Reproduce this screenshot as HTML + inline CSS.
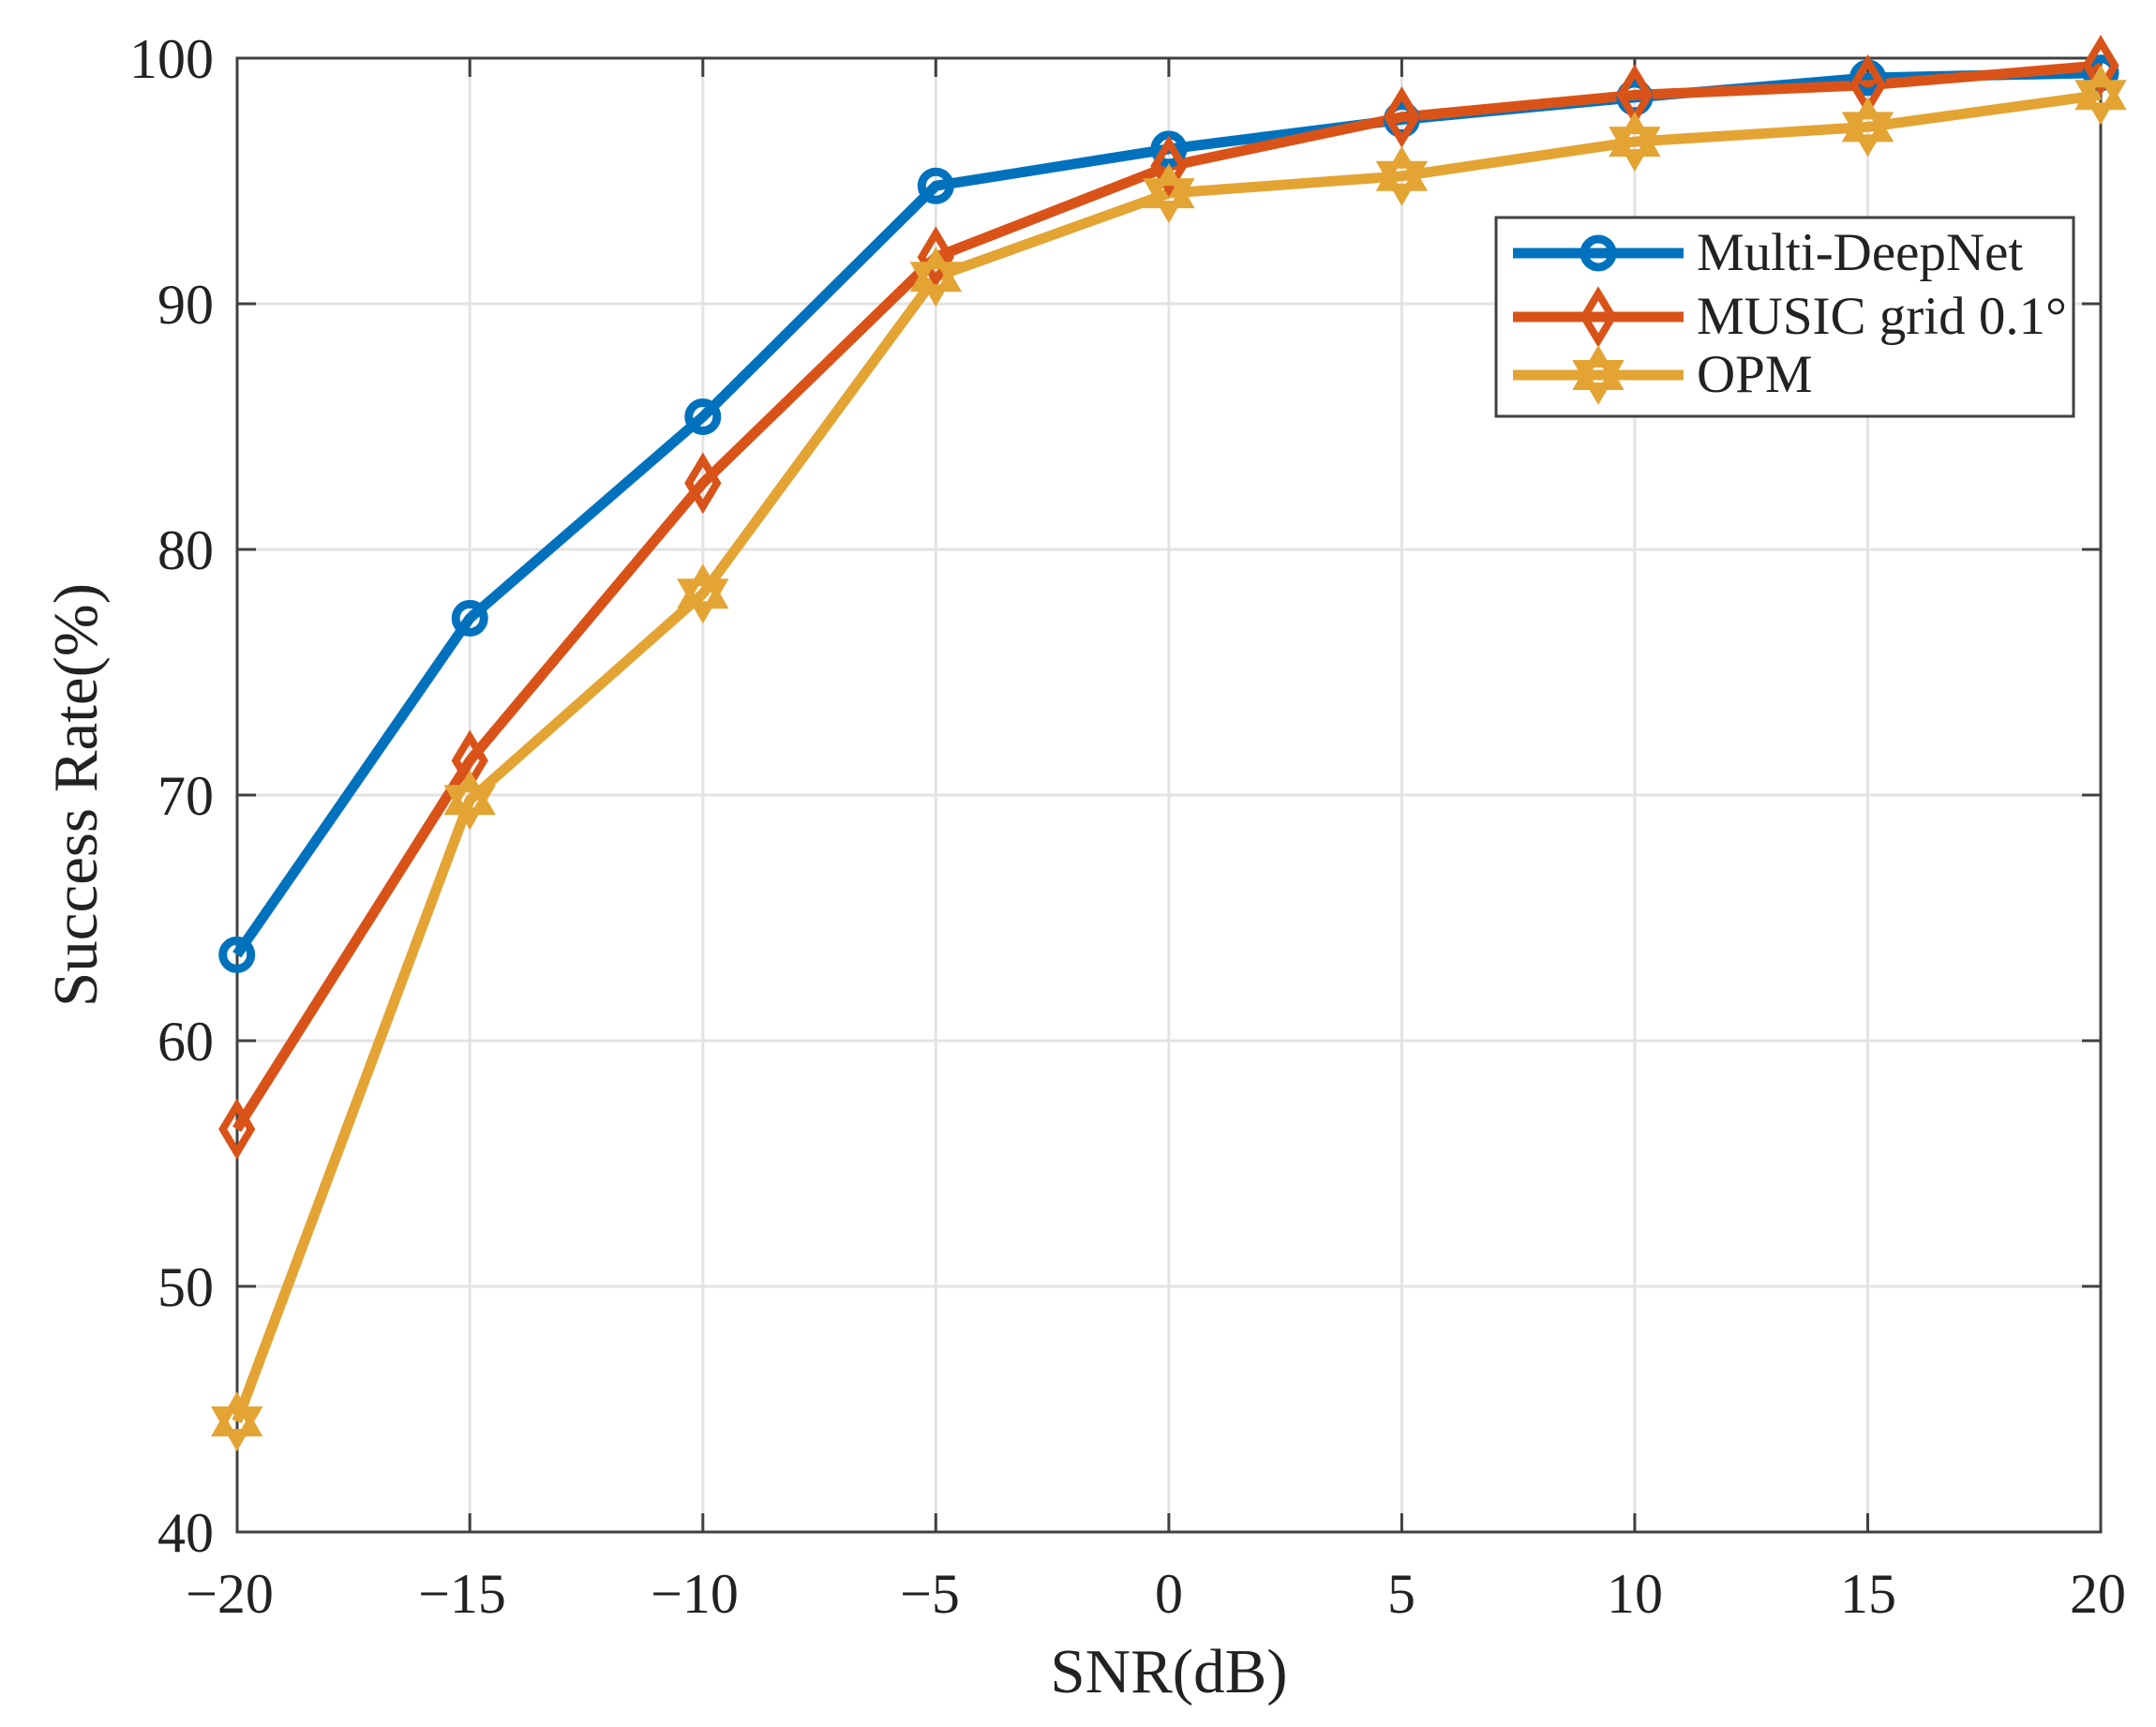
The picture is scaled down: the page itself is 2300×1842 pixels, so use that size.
<!DOCTYPE html>
<html><head><style>body{margin:0;background:#fff}svg{display:block}</style></head><body>
<svg width="2300" height="1842" viewBox="0 0 2300 1842" xmlns="http://www.w3.org/2000/svg" font-family="Liberation Serif, serif" fill="#222">
<defs>
<g id="circ"><circle r="15" fill="none" stroke-width="9"/></g>
<g id="dia"><polygon points="0,-25 15,0 0,25 -15,0" fill="none" stroke-width="8"/></g>
<g id="star"><polygon points="0,-24 20.8,12 -20.8,12" fill="none" stroke-width="8"/><polygon points="0,24 20.8,-12 -20.8,-12" fill="none" stroke-width="8"/></g>
</defs>
<g stroke="#e3e3e3" stroke-width="3">
<line x1="501.2" y1="62" x2="501.2" y2="1634"/><line x1="749.8" y1="62" x2="749.8" y2="1634"/><line x1="998.3" y1="62" x2="998.3" y2="1634"/><line x1="1246.9" y1="62" x2="1246.9" y2="1634"/><line x1="1495.4" y1="62" x2="1495.4" y2="1634"/><line x1="1743.9" y1="62" x2="1743.9" y2="1634"/><line x1="1992.5" y1="62" x2="1992.5" y2="1634"/>
<line x1="253" y1="1372" x2="2241" y2="1372"/><line x1="253" y1="1110" x2="2241" y2="1110"/><line x1="253" y1="848" x2="2241" y2="848"/><line x1="253" y1="586" x2="2241" y2="586"/><line x1="253" y1="324" x2="2241" y2="324"/>
</g>
<g stroke="#404040" stroke-width="3">
<path d="M501.2,1634v-20M749.8,1634v-20M998.3,1634v-20M1246.9,1634v-20M1495.4,1634v-20M1743.9,1634v-20M1992.5,1634v-20M501.2,62v20M749.8,62v20M998.3,62v20M1246.9,62v20M1495.4,62v20M1743.9,62v20M1992.5,62v20"/>
<path d="M253,1372h20M253,1110h20M253,848h20M253,586h20M253,324h20M2241,1372h-20M2241,1110h-20M2241,848h-20M2241,586h-20M2241,324h-20"/>
<rect x="253" y="62" width="1988" height="1572" fill="none"/>
</g>
<g font-size="60" text-anchor="end">
<text x="228" y="1655">40</text><text x="228" y="1393">50</text><text x="228" y="1131">60</text><text x="228" y="869">70</text><text x="228" y="607">80</text><text x="228" y="345">90</text><text x="228" y="83">100</text>
</g>
<g font-size="60" text-anchor="middle">
<text x="245" y="1720">−20</text><text x="493" y="1720">−15</text><text x="741" y="1720">−10</text><text x="992" y="1720">−5</text><text x="1247" y="1720">0</text><text x="1495" y="1720">5</text><text x="1744" y="1720">10</text><text x="1993" y="1720">15</text><text x="2238" y="1720">20</text>
</g>
<g font-size="67" text-anchor="middle">
<text x="1247" y="1805">SNR(dB)</text>
<text transform="translate(103,848) rotate(-90)">Success Rate(%)</text>
</g>
<g fill="none" stroke-width="11" stroke-linejoin="round">
<polyline stroke="#0072BD" points="252.7,1018.3 501.2,659.4 749.8,444.5 998.3,198.2 1246.9,158.9 1495.4,127.5 1743.9,103.9 1992.5,83 2241,77.7"/>
<polyline stroke="#D95319" points="252.7,1204.3 501.2,811.3 749.8,515.3 998.3,274.2 1246.9,177.3 1495.4,124.9 1743.9,101.3 1992.5,90.8 2241,69.9"/>
<polyline stroke="#E3A434" points="252.7,1516.1 501.2,853.2 749.8,633.2 998.3,295.2 1246.9,206.1 1495.4,187.8 1743.9,151.1 1992.5,135.4 2241,101.3"/>
</g>
<g stroke="#0072BD">
<use href="#circ" x="252.7" y="1018.3"/><use href="#circ" x="501.2" y="659.4"/><use href="#circ" x="749.8" y="444.5"/><use href="#circ" x="998.3" y="198.2"/><use href="#circ" x="1246.9" y="158.9"/><use href="#circ" x="1495.4" y="127.5"/><use href="#circ" x="1743.9" y="103.9"/><use href="#circ" x="1992.5" y="83"/><use href="#circ" x="2241" y="77.7"/>
</g>
<g stroke="#D95319">
<use href="#dia" x="252.7" y="1204.3"/><use href="#dia" x="501.2" y="811.3"/><use href="#dia" x="749.8" y="515.3"/><use href="#dia" x="998.3" y="274.2"/><use href="#dia" x="1246.9" y="177.3"/><use href="#dia" x="1495.4" y="124.9"/><use href="#dia" x="1743.9" y="101.3"/><use href="#dia" x="1992.5" y="90.8"/><use href="#dia" x="2241" y="69.9"/>
</g>
<g stroke="#E3A434">
<use href="#star" x="252.7" y="1516.1"/><use href="#star" x="501.2" y="853.2"/><use href="#star" x="749.8" y="633.2"/><use href="#star" x="998.3" y="295.2"/><use href="#star" x="1246.9" y="206.1"/><use href="#star" x="1495.4" y="187.8"/><use href="#star" x="1743.9" y="151.1"/><use href="#star" x="1992.5" y="135.4"/><use href="#star" x="2241" y="101.3"/>
</g>
<rect x="1596" y="232" width="616" height="212" fill="#fff" stroke="#404040" stroke-width="3"/>
<g stroke-width="11">
<line x1="1614" y1="270" x2="1796" y2="270" stroke="#0072BD"/>
<line x1="1614" y1="338" x2="1796" y2="338" stroke="#D95319"/>
<line x1="1614" y1="400" x2="1796" y2="400" stroke="#E3A434"/>
</g>
<use href="#circ" x="1705" y="270" stroke="#0072BD"/>
<use href="#dia" x="1705" y="338" stroke="#D95319"/>
<use href="#star" x="1705" y="400" stroke="#E3A434"/>
<g font-size="57">
<text x="1810" y="288">Multi-DeepNet</text>
<text x="1810" y="356">MUSIC grid 0.1°</text>
<text x="1810" y="418">OPM</text>
</g>
</svg>
</body></html>
